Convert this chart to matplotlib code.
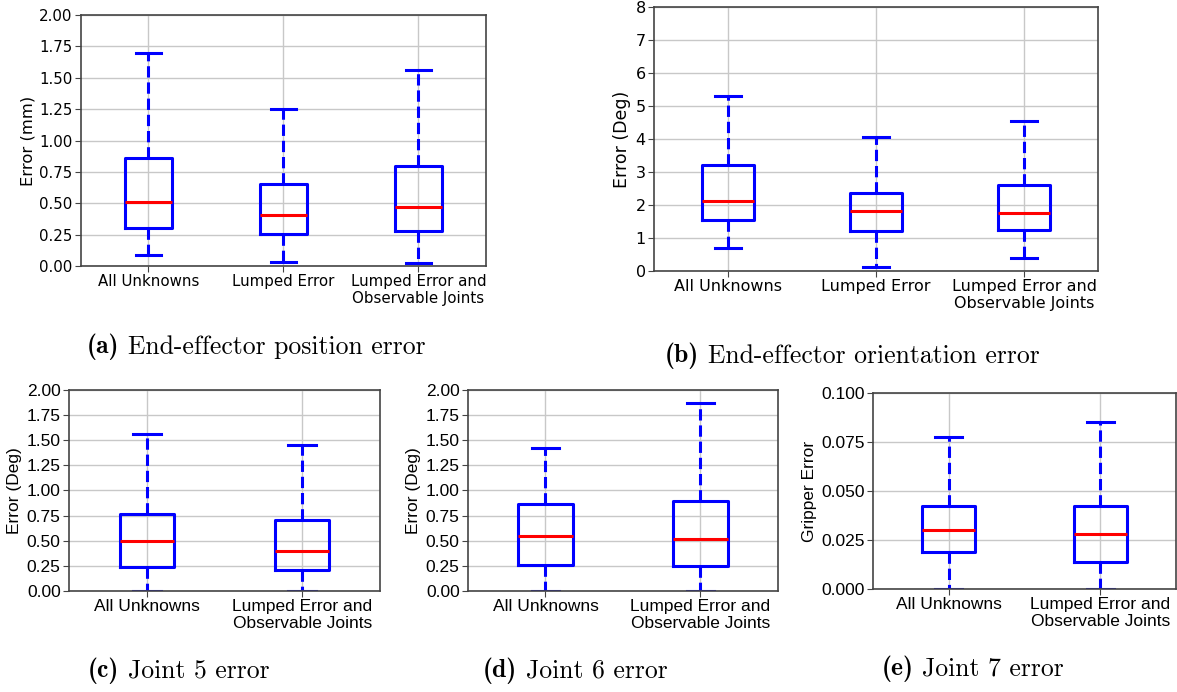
import matplotlib
matplotlib.use("Agg")
import matplotlib.pyplot as plt

# ---- data ----
labels3 = ["All Unknowns", "Lumped Error", "Lumped Error and\nObservable Joints"]
labels2 = ["All Unknowns", "Lumped Error and\nObservable Joints"]

# (a) end-effector position error (mm)
pos_lo = [0.09, 0.03, 0.025]
pos_q1 = [0.30, 0.255, 0.28]
pos_med = [0.51, 0.41, 0.47]
pos_q3 = [0.86, 0.655, 0.80]
pos_hi = [1.70, 1.25, 1.565]

# (b) end-effector orientation error (deg)
ori_lo = [0.70, 0.12, 0.38]
ori_q1 = [1.55, 1.20, 1.25]
ori_med = [2.12, 1.82, 1.75]
ori_q3 = [3.22, 2.35, 2.60]
ori_hi = [5.30, 4.07, 4.55]

# (c) joint 5 error (deg)
j5_lo = [0.0, 0.0]
j5_q1 = [0.24, 0.21]
j5_med = [0.50, 0.40]
j5_q3 = [0.77, 0.71]
j5_hi = [1.56, 1.45]

# (d) joint 6 error (deg)
j6_lo = [0.0, 0.0]
j6_q1 = [0.26, 0.245]
j6_med = [0.55, 0.52]
j6_q3 = [0.87, 0.90]
j6_hi = [1.42, 1.87]

# (e) joint 7 / gripper error
j7_lo = [0.0, 0.0]
j7_q1 = [0.019, 0.014]
j7_med = [0.030, 0.028]
j7_q3 = [0.0425, 0.0425]
j7_hi = [0.0775, 0.085]

W, H = 1177, 692


def make_stats(labels, lo, q1, med, q3, hi):
    stats = []
    for i in range(len(labels)):
        stats.append(dict(label=labels[i], whislo=lo[i], q1=q1[i], med=med[i],
                          q3=q3[i], whishi=hi[i], fliers=[]))
    return stats


def caption(fig, tag, rest, x_left, y_center, size=18.5):
    """bold tag in cmb10 followed by the text in cmr10 (pixel coords)"""
    r = fig.canvas.get_renderer()
    t1 = fig.text(x_left / W, 1 - y_center / H, tag, fontfamily='cmb10',
                  fontsize=size, ha='left', va='center')
    w1 = t1.get_window_extent(renderer=r).width
    fig.text((x_left + w1 + 0.45 * size) / W, 1 - y_center / H, rest,
             fontfamily='cmr10', fontsize=size, ha='left', va='center')


def draw_panel(fig, rect, stats, ylim, yticks, ylabel, fmt, font, fsize, lsize,
               lw=2.2):
    ax = fig.add_axes(rect)
    ax.set_axisbelow(True)
    ax.grid(True, color='#c8c8c8', linewidth=1.0)
    ax.bxp(stats, widths=0.35, capwidths=0.18, showfliers=False,
           boxprops=dict(color='blue', linewidth=lw),
           whiskerprops=dict(color='blue', linewidth=lw, linestyle='--'),
           capprops=dict(color='blue', linewidth=lw),
           medianprops=dict(color='red', linewidth=lw))
    ax.set_ylim(ylim)
    ax.set_yticks(yticks)
    ax.set_yticklabels([fmt.format(v) for v in yticks], fontfamily=font, fontsize=fsize)
    for t in ax.get_xticklabels():
        t.set_fontfamily(font)
        t.set_fontsize(fsize)
        t.set_linespacing(1.15)
    ax.set_ylabel(ylabel, fontfamily=font, fontsize=lsize, labelpad=3)
    for s in ax.spines.values():
        s.set_color('#444444')
        s.set_linewidth(1.2)
    ax.tick_params(colors='#444444', labelcolor='black', length=4, pad=2)
    return ax


fig = plt.figure(figsize=(W / 100, H / 100), dpi=100)

draw_panel(fig, [0.0688, 0.6156, 0.3441, 0.3627],
           make_stats(labels3, pos_lo, pos_q1, pos_med, pos_q3, pos_hi),
           (0, 2.0), [0, 0.25, 0.5, 0.75, 1.0, 1.25, 1.5, 1.75, 2.0],
           "Error (mm)", "{:.2f}", 'DejaVu Sans', 10.8, 11.8)

draw_panel(fig, [0.5557, 0.6084, 0.3772, 0.3815],
           make_stats(labels3, ori_lo, ori_q1, ori_med, ori_q3, ori_hi),
           (0, 8), [0, 1, 2, 3, 4, 5, 6, 7, 8],
           "Error (Deg)", "{:.0f}", 'DejaVu Sans', 11.5, 12.5)

draw_panel(fig, [0.0586, 0.1460, 0.2642, 0.2905],
           make_stats(labels2, j5_lo, j5_q1, j5_med, j5_q3, j5_hi),
           (0, 2.0), [0, 0.25, 0.5, 0.75, 1.0, 1.25, 1.5, 1.75, 2.0],
           "Error (Deg)", "{:.2f}", 'Liberation Sans', 12.5, 12.5)

draw_panel(fig, [0.3976, 0.1460, 0.2634, 0.2905],
           make_stats(labels2, j6_lo, j6_q1, j6_med, j6_q3, j6_hi),
           (0, 2.0), [0, 0.25, 0.5, 0.75, 1.0, 1.25, 1.5, 1.75, 2.0],
           "Error (Deg)", "{:.2f}", 'Liberation Sans', 12.5, 12.5)

draw_panel(fig, [0.7417, 0.1488, 0.2574, 0.2832],
           make_stats(labels2, j7_lo, j7_q1, j7_med, j7_q3, j7_hi),
           (0, 0.1), [0, 0.025, 0.05, 0.075, 0.1],
           "Gripper Error", "{:.3f}", 'Liberation Sans', 12.5, 12.5)

caption(fig, "(a)", "End-effector position error", 87, 347)
caption(fig, "(b)", "End-effector orientation error", 665, 356)
caption(fig, "(c)", "Joint 5 error", 88, 671)
caption(fig, "(d)", "Joint 6 error", 483, 671)
caption(fig, "(e)", "Joint 7 error", 882, 669)

fig.savefig("out.png", dpi=100)
